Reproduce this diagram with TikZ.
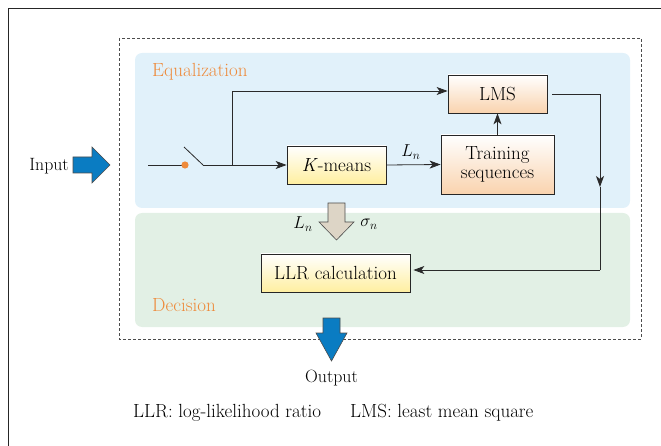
\documentclass[tikz,border=0pt]{standalone}
\usepackage{fontspec}
\usetikzlibrary{arrows.meta}
\definecolor{eqblue}{HTML}{E1F1FA}
\definecolor{decgreen}{HTML}{E2F0E5}
\definecolor{lblorange}{HTML}{EE8A3A}
\definecolor{arrblue}{HTML}{0A7CC2}
\definecolor{arrbeige}{HTML}{DDD5C6}
\definecolor{boxyellow}{HTML}{FFEFA0}
\definecolor{boxpeach}{HTML}{F9D3AE}
\definecolor{linegray}{HTML}{2A2A2A}
\tikzset{
  txt/.style={font=\fontsize{17.8}{19}\selectfont, inner sep=0pt},
  ybox/.style={draw=black!85, line width=0.8pt, top color=white, bottom color=boxyellow, font=\fontsize{19}{20}\selectfont, align=center, inner sep=0pt},
  obox/.style={draw=black!85, line width=0.8pt, top color=white, bottom color=boxpeach, font=\fontsize{19}{20}\selectfont, align=center, inner sep=0pt},
  wire/.style={draw=linegray, line width=0.8pt},
  arr/.style={wire, -{Stealth[length=11pt,width=8pt,inset=3pt]}},
  region/.style={rounded corners=7pt, draw=none},
  seclbl/.style={font=\fontsize{19}{20}\selectfont, text=lblorange, inner sep=0pt, anchor=west},
  bigarrow/.style={line width=0.6pt, draw=black!70, line join=miter},
  mlbl/.style={font=\fontsize{17}{18}\selectfont, inner sep=0pt},
  legend/.style={font=\fontsize{19}{20}\selectfont, inner sep=0pt, anchor=west},
}
\begin{document}
\begin{tikzpicture}[x=1pt,y=-1pt]
\useasboundingbox (0,0) rectangle (661,446);
% outer frame (top and left only)
\draw[line width=0.9pt, draw=black!85] (8,446) -- (8,8) -- (661,8);
% dashed frame
\draw[dash pattern=on 3pt off 2pt, line width=0.8pt, draw=black!70] (119,38) rectangle (641,339);
% regions
\fill[region, fill=eqblue] (135,53) rectangle (630,208);
\fill[region, fill=decgreen] (135,213) rectangle (630,327);
\node[seclbl] (eqlbl) at (152,72) {Equalization};
\node[seclbl] (declbl) at (152,305) {Decision};
% input
\node[txt, anchor=east] (input) at (69,166) {Input};
\draw[bigarrow, fill=arrblue] (73,157) -- (92,157) -- (92,147) -- (110,165) -- (92,183) -- (92,173) -- (73,173) -- cycle;
% boxes
\node[ybox, minimum width=99pt, minimum height=38pt] (km) at (336.5,165) {\textit{K}-means};
\node[obox, minimum width=113pt, minimum height=59pt] (ts) at (497.5,164.5) {Training\\[-1pt]sequences};
\node[obox, minimum width=99pt, minimum height=38pt] (lms) at (497.5,94) {LMS};
\node[ybox, minimum width=149pt, minimum height=38pt] (llr) at (335.5,273) {LLR calculation};
% input line and switch
\coordinate (in0) at (148,165);
\coordinate (sw0) at (185,165);
\coordinate (swa) at (184,147);
\coordinate (swb) at (203,165);
\coordinate (jn) at (232,165);
\draw[wire] (in0) -- (sw0);
\fill[lblorange] (sw0) circle (3.6pt);
\draw[wire] (swa) -- (swb);
\draw[arr] (swb) -- (km.west);
\draw[arr] (jn) |- ([yshift=3pt]lms.west);
% K-means -> training
\draw[arr] (km.east) -- node[mlbl, above=5pt, pos=0.45] (ln1) {$L_n$} (ts.west);
\draw[arr] (ts.north) -- (lms.south);
% LMS -> LLR
\coordinate (lmsout) at ([xshift=5pt]lms.east);
\coordinate (dn) at (600,187);
\coordinate (corner) at (600,270);
\draw[arr] (lmsout) -| (dn);
\draw[wire] (dn) -- (corner);
\draw[arr] (corner) -- ([xshift=3pt,yshift=3pt]llr.east);
% beige arrow
\draw[bigarrow, fill=arrbeige] (328,203) -- (345,203) -- (345,222) -- (354,222) -- (336.5,240) -- (319,222) -- (328,222) -- cycle;
\node[mlbl] (ln2) at (303,224) {$L_n$};
\node[mlbl] (sn) at (369,224) {$\sigma_n$};
% output
\draw[bigarrow, fill=arrblue] (323,318) -- (340,318) -- (340,333) -- (347,333) -- (331.5,361) -- (316,333) -- (323,333) -- cycle;
\node[txt] (output) at (331.5,378) {Output};
% legend
\node[legend] (leg1) at (133,413) {LLR: log-likelihood ratio};
\node[legend] (leg2) at (350,413) {LMS: least mean square};
\end{tikzpicture}
\end{document}
